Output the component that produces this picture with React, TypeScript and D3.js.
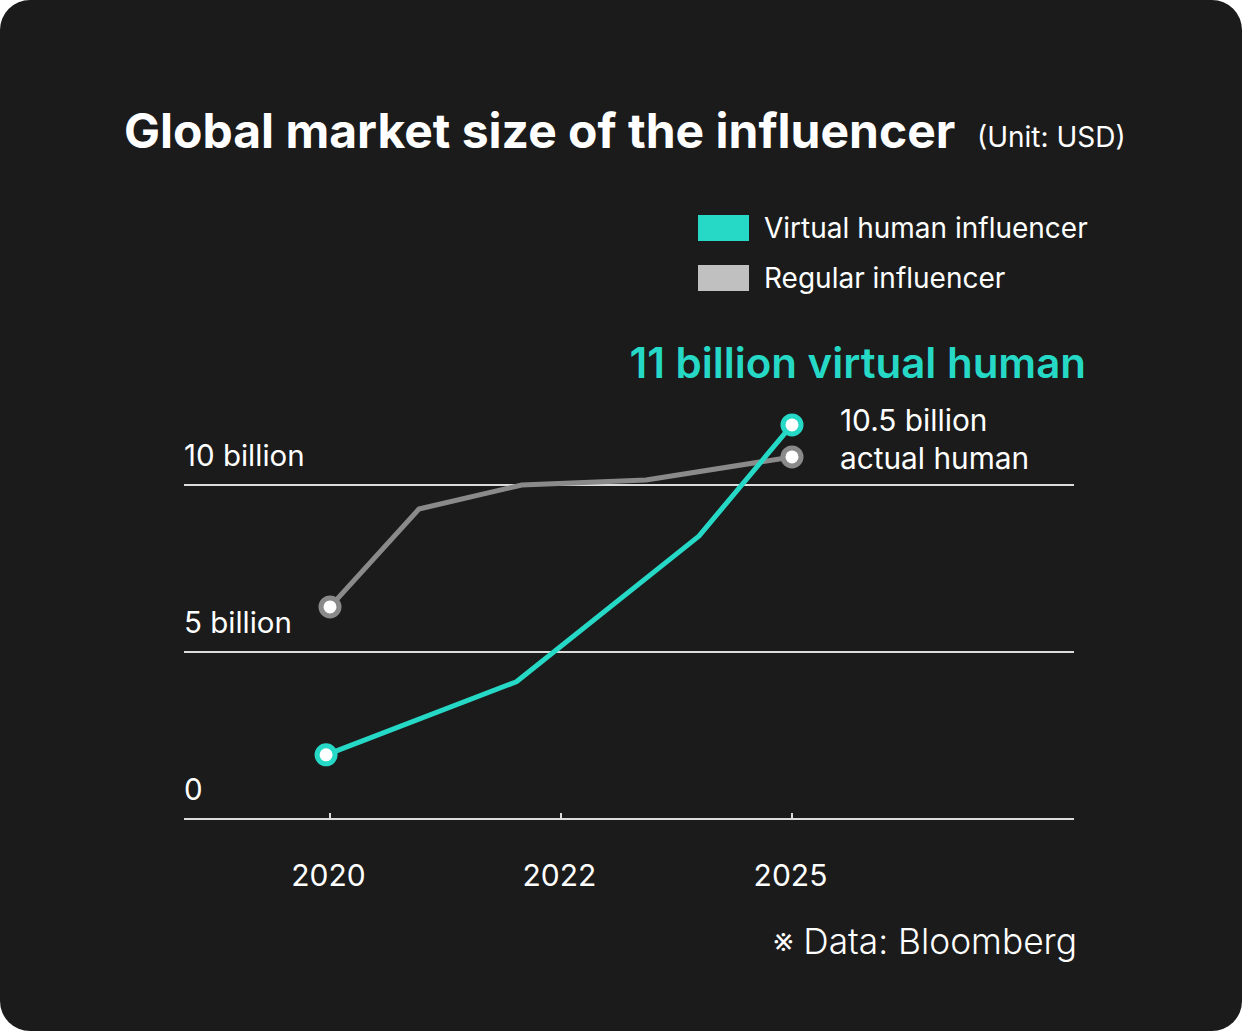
import React, { useEffect } from "react";
import * as d3 from "d3";

const xTickLabels = ["2020", "2022", "2025"];
const yTickValues = [0, 5, 10];
const yTickLabels = ["0", "5 billion", "10 billion"];

// x positions in tick-index units (0 = 2020, 1 = 2022, 2 = 2025); values in billion USD
const regularX = [0, 0.385, 0.83, 1.368, 2.0];
const regularY = [6.35, 9.28, 10.0, 10.15, 10.84];
const virtualX = [-0.017, 0.807, 1.597, 2.0];
const virtualY = [1.92, 4.11, 8.47, 11.8];

const TEAL = "#26d9c6";
const GRAYLINE = "#8a8a8a";
const BG = "#1b1b1b";
const FONT = "Inter, 'Noto Sans', sans-serif";

export default function App() {
  useEffect(() => {
    document.body.style.margin = "0";
    document.body.style.background = "#ffffff";
  }, []);

  const W = 1242;
  const H = 1031;
  const x = d3.scaleLinear().domain([0, 2]).range([330, 792]);
  const y = d3.scaleLinear().domain([0, 10]).range([819, 485]);
  const line = d3
    .line<[number, number]>()
    .x((d) => x(d[0]))
    .y((d) => y(d[1]));

  const regular: [number, number][] = regularX.map((v, i) => [v, regularY[i]]);
  const virtual: [number, number][] = virtualX.map((v, i) => [v, virtualY[i]]);

  return (
    <svg width={W} height={H} style={{ display: "block" }} fontFamily={FONT}>
      <rect x={0} y={0} width={W} height={H} fill="#ffffff" />
      <rect x={0} y={0} width={W} height={H} rx={30} ry={30} fill={BG} />

      <text x={124} y={148} fill="#fff" fontSize={48} fontWeight={700}>
        Global market size of the influencer
      </text>
      <text x={977} y={147} fill="#fff" fontSize={28} fontWeight={400}>
        (Unit: USD)
      </text>

      {/* legend */}
      <rect x={698} y={215} width={51} height={26} fill={TEAL} />
      <text x={764} y={238} fill="#fff" fontSize={28}>
        Virtual human influencer
      </text>
      <rect x={698} y={265} width={51} height={26} fill="#c0c0c0" />
      <text x={764} y={288} fill="#fff" fontSize={28}>
        Regular influencer
      </text>

      {/* gridlines */}
      {yTickValues.map((v, i) => (
        <g key={v}>
          <line x1={184} x2={1074} y1={y(v)} y2={y(v)} stroke="#dcdcdc" strokeWidth={2} />
          <text x={184} y={y(v) - 19} fill="#fff" fontSize={29.5}>
            {yTickLabels[i]}
          </text>
        </g>
      ))}

      {/* x ticks */}
      {xTickLabels.map((t, i) => (
        <g key={t}>
          <line x1={x(i)} x2={x(i)} y1={y(0)} y2={y(0) - 6} stroke="#dcdcdc" strokeWidth={2} />
          <text x={x(i) - 1.5} y={886} fill="#fff" fontSize={30} textAnchor="middle">
            {t}
          </text>
        </g>
      ))}

      {/* lines */}
      <path d={line(regular) || ""} fill="none" stroke={GRAYLINE} strokeWidth={5} strokeLinejoin="round" />
      <path d={line(virtual) || ""} fill="none" stroke={TEAL} strokeWidth={5} strokeLinejoin="round" />

      {/* endpoint markers */}
      {[regular[0], regular[regular.length - 1]].map((d, i) => (
        <circle key={"r" + i} cx={x(d[0])} cy={y(d[1])} r={9} fill="#fff" stroke={GRAYLINE} strokeWidth={5} />
      ))}
      {[virtual[0], virtual[virtual.length - 1]].map((d, i) => (
        <circle key={"v" + i} cx={x(d[0])} cy={y(d[1])} r={9} fill="#fff" stroke={TEAL} strokeWidth={5} />
      ))}

      {/* annotations */}
      <text x={1086} y={378} fill={TEAL} fontSize={42} fontWeight={600} textAnchor="end">
        11 billion virtual human
      </text>
      <text x={840} y={431} fill="#fff" fontSize={29.8}>
        10.5 billion
      </text>
      <text x={840} y={469} fill="#fff" fontSize={29.8}>
        actual human
      </text>

      <text x={1077} y={954} fill="#fff" fontSize={35.3} fontWeight={300} textAnchor="end">
        ※ Data: Bloomberg
      </text>
    </svg>
  );
}
